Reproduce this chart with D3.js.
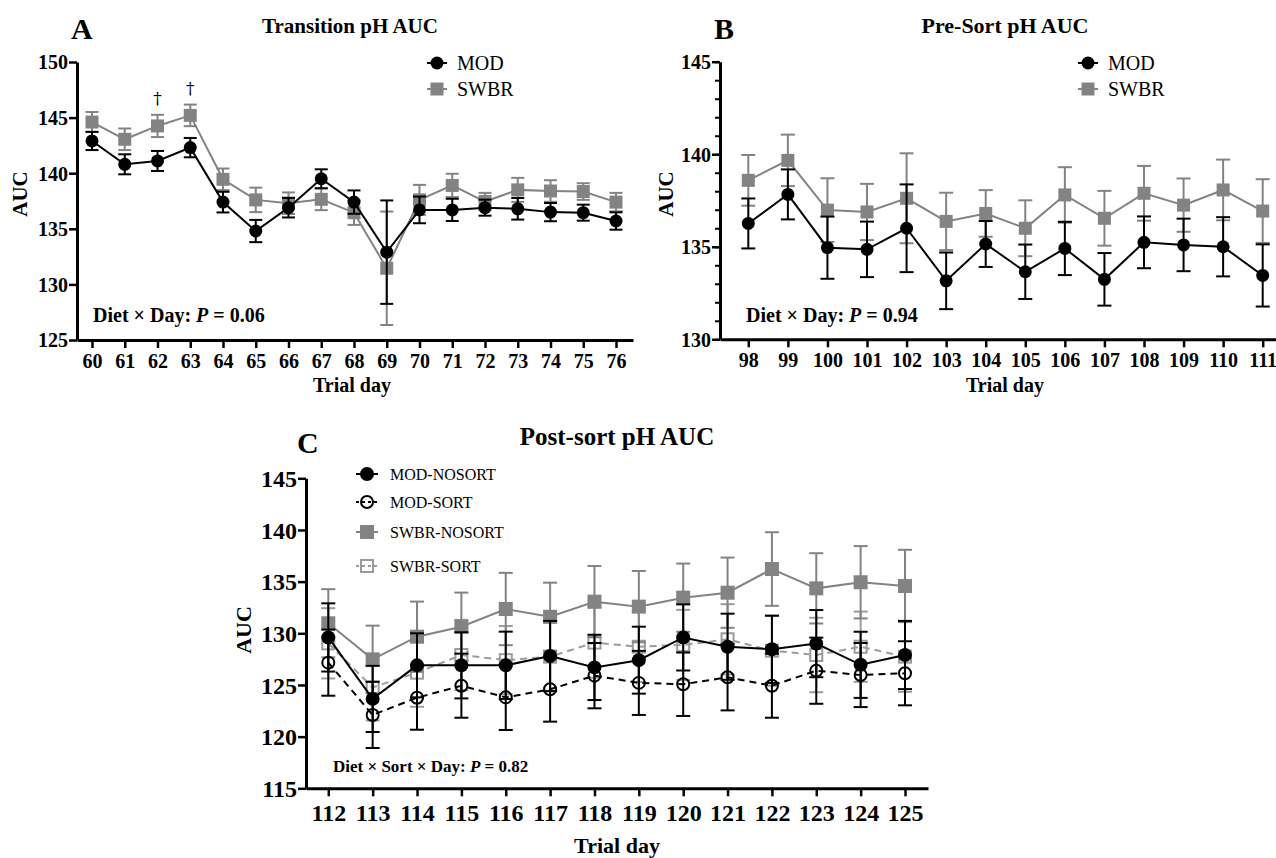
<!DOCTYPE html>
<html>
<head>
<meta charset="utf-8">
<title>pH AUC</title>
<script src="https://d3js.org/d3.v7.min.js"></script>
<style>
    body { margin: 0; padding: 0; background: #fff; }
    svg text { font-family: "Liberation Serif", "Times New Roman", serif; fill: #000; }
</style>
</head>
<body>
<div id="chart"></div>
<script>
// ---- data ----
var daysA = [60, 61, 62, 63, 64, 65, 66, 67, 68, 69, 70, 71, 72, 73, 74, 75, 76];
var modA = [142.9, 140.8, 141.1, 142.3, 137.4, 134.8, 136.9, 139.5, 137.4, 132.9, 136.7, 136.7, 136.9, 136.8, 136.5, 136.45, 135.7];
var modA_se = [0.82, 0.9, 0.9, 0.87, 0.93, 1.0, 0.88, 0.85, 1.05, 4.65, 1.2, 1.0, 0.72, 0.97, 0.82, 0.72, 0.78];
var swbrA = [144.6, 143.05, 144.25, 145.2, 139.45, 137.6, 137.3, 137.65, 136.45, 131.45, 137.6, 138.9, 137.45, 138.5, 138.4, 138.35, 137.4];
var swbrA_se = [0.9, 0.97, 1.0, 0.97, 0.97, 1.1, 0.97, 0.97, 1.1, 5.1, 1.35, 1.05, 0.78, 1.08, 0.97, 0.75, 0.83];
var daggerDaysA = [62, 63];

var daysB = [98, 99, 100, 101, 102, 103, 104, 105, 106, 107, 108, 109, 110, 111];
var modB = [136.26, 137.83, 134.95, 134.86, 136.0, 133.16, 135.15, 133.65, 134.91, 133.24, 135.24, 135.1, 135.0, 133.45];
var modB_se = [1.35, 1.35, 1.68, 1.5, 2.37, 1.53, 1.24, 1.47, 1.44, 1.42, 1.4, 1.42, 1.6, 1.68];
var swbrB = [138.59, 139.67, 136.98, 136.88, 137.62, 136.37, 136.8, 136.0, 137.8, 136.54, 137.89, 137.25, 138.07, 136.93];
var swbrB_se = [1.37, 1.39, 1.72, 1.52, 2.43, 1.55, 1.26, 1.51, 1.5, 1.48, 1.48, 1.44, 1.64, 1.72];

var daysC = [112, 113, 114, 115, 116, 117, 118, 119, 120, 121, 122, 123, 124, 125];
var modNoC = [129.6, 123.65, 126.9, 126.9, 126.9, 127.8, 126.7, 127.4, 129.6, 128.7, 128.45, 129.0, 126.95, 127.9];
var modNoC_se = [3.3, 3.2, 3.1, 3.2, 3.26, 3.4, 3.16, 3.24, 3.2, 3.2, 3.25, 3.25, 3.2, 3.3];
var modSortC = [127.16, 122.1, 123.77, 124.93, 123.8, 124.58, 125.9, 125.2, 125.07, 125.74, 124.93, 126.38, 125.96, 126.13];
var modSortC_se = [3.2, 3.2, 3.1, 3.1, 3.16, 3.13, 3.16, 3.1, 3.07, 3.2, 3.1, 3.2, 3.1, 3.1];
var swNoC = [130.97, 127.48, 129.67, 130.64, 132.35, 131.6, 133.06, 132.58, 133.45, 133.93, 136.22, 134.35, 134.94, 134.58];
var swNoC_se = [3.3, 3.26, 3.4, 3.3, 3.5, 3.3, 3.45, 3.45, 3.3, 3.4, 3.56, 3.4, 3.5, 3.5];
var swSortC = [129.03, 124.77, 126.19, 127.9, 127.4, 127.74, 129.1, 128.7, 128.87, 129.42, 128.32, 127.9, 128.7, 127.74];
var swSortC_se = [3.4, 3.2, 3.3, 3.4, 3.3, 3.3, 3.4, 3.4, 3.4, 3.4, 3.4, 3.6, 3.4, 3.4];

var ticksA = [125, 130, 135, 140, 145, 150];
var ticksB = [130, 135, 140, 145];
var ticksC = [115, 120, 125, 130, 135, 140, 145];

var BLACK = "#000", GREY = "#838383", LIGHT = "#9b9b9b";

var svg = d3.select("#chart").append("svg")
    .attr("width", 1276)
    .attr("height", 858);
svg.append("rect").attr("width", 1276).attr("height", 858).attr("fill", "#fff");

// x scale: first/last tick positions plus where the axis line starts/ends
function makeX(d0, d1, p0, p1, a0, a1) {
    var s = d3.scaleLinear().domain([d0, d1]).range([p0, p1]);
    return d3.scaleLinear().domain([s.invert(a0), s.invert(a1)]).range([a0, a1]);
}

function drawPanel(p) {
    var g = svg.append("g");
    var x = p.x, y = p.y;

    // y axis
    var ya = g.append("g")
        .attr("transform", "translate(" + x.range()[0] + ",0)")
        .call(d3.axisLeft(y).tickValues(p.yTicks).tickSize(8).tickSizeOuter(0).tickPadding(1));
    if (p.minor) {
        g.append("g")
            .attr("transform", "translate(" + x.range()[0] + ",0)")
            .call(d3.axisLeft(y).tickValues(d3.range(y.domain()[0], y.domain()[1] + 1, 1)).tickSize(5).tickFormat(""))
            .call(function (a) { a.select(".domain").remove(); a.selectAll("line").attr("stroke-width", 2); });
    }
    // x axis
    var xa = g.append("g")
        .attr("transform", "translate(0," + y.range()[0] + ")")
        .call(d3.axisBottom(x).tickValues(p.days).tickSize(8).tickSizeOuter(0).tickPadding(p.xPad).tickFormat(d3.format("d")));

    [ya, xa].forEach(function (a) {
        a.select(".domain").attr("stroke-width", 3);
        a.selectAll(".tick line").attr("stroke-width", 2.5);
        a.selectAll("text")
            .style("font-family", '"Liberation Serif", "Times New Roman", serif')
            .style("font-weight", "bold")
            .style("font-size", p.tickFont + "px")
            .attr("fill", "#000");
    });
    ya.selectAll("text").attr("dy", "0.34em");
    xa.selectAll("text").attr("dy", "0.78em");

    // series
    p.series.forEach(function (s) {
        var pts = p.days.map(function (d, i) { return { d: d, v: s.v[i], e: s.e[i] }; });
        var sg = g.append("g");
        // error bars
        pts.forEach(function (q) {
            var cx = x(q.d);
            sg.append("line").attr("x1", cx).attr("x2", cx).attr("y1", y(q.v - q.e)).attr("y2", y(q.v + q.e))
                .attr("stroke", s.color).attr("stroke-width", p.lw);
            [q.v - q.e, q.v + q.e].forEach(function (v) {
                sg.append("line").attr("x1", cx - p.cap).attr("x2", cx + p.cap).attr("y1", y(v)).attr("y2", y(v))
                    .attr("stroke", s.color).attr("stroke-width", p.lw);
            });
        });
        // line
        sg.append("path")
            .datum(pts)
            .attr("fill", "none")
            .attr("stroke", s.color)
            .attr("stroke-width", p.lw)
            .attr("stroke-dasharray", s.dash || null)
            .attr("d", d3.line().x(function (q) { return x(q.d); }).y(function (q) { return y(q.v); }));
        // markers
        pts.forEach(function (q) {
            drawMarker(sg, s, x(q.d), y(q.v), p.r);
        });
    });

    // legend
    p.legend.items.forEach(function (s, i) {
        var ly = p.legend.ys[i];
        var lx = p.legend.x;
        g.append("line").attr("x1", lx - p.legend.half).attr("x2", lx + p.legend.half).attr("y1", ly).attr("y2", ly)
            .attr("stroke", s.color).attr("stroke-width", p.lw).attr("stroke-dasharray", s.dash ? "3,3" : null);
        drawMarker(g, s, lx, ly, p.r);
        g.append("text").attr("x", p.legend.tx).attr("y", ly).attr("dy", "0.35em")
            .style("font-size", p.legend.font + "px")
            .text(s.name);
    });

    // texts
    g.append("text").attr("x", p.title.x).attr("y", p.title.y).attr("text-anchor", "middle")
        .style("font-weight", "bold").style("font-size", p.title.size + "px").text(p.title.text);
    g.append("text").attr("x", p.letter.x).attr("y", p.letter.y)
        .style("font-weight", "bold").style("font-size", "30px").text(p.letter.text);
    g.append("text").attr("transform", "translate(" + p.ylab.x + "," + p.ylab.y + ") rotate(-90)")
        .attr("text-anchor", "middle")
        .style("font-weight", "bold").style("font-size", p.ylab.size + "px").text("AUC");
    g.append("text").attr("x", p.xlab.x).attr("y", p.xlab.y).attr("text-anchor", "middle")
        .style("font-weight", "bold").style("font-size", p.xlab.size + "px").text("Trial day");

    var st = g.append("text").attr("x", p.stat.x).attr("y", p.stat.y)
        .style("font-weight", "bold").style("font-size", p.stat.size + "px");
    st.append("tspan").text(p.stat.pre);
    st.append("tspan").style("font-style", "italic").text("P");
    st.append("tspan").text(" = " + p.stat.val);
    return g;
}

function drawMarker(g, s, cx, cy, r) {
    var fill = s.open ? "none" : s.color;
    var sw = s.open ? 2 : 0;
    if (s.shape === "circle") {
        g.append("circle").attr("cx", cx).attr("cy", cy).attr("r", s.open ? r - 1 : r)
            .attr("fill", fill).attr("stroke", s.color).attr("stroke-width", sw);
    } else {
        var h = s.open ? r - 1 : r;
        g.append("rect").attr("x", cx - h).attr("y", cy - h).attr("width", 2 * h).attr("height", 2 * h)
            .attr("fill", fill).attr("stroke", s.color).attr("stroke-width", sw);
    }
}

// ---- panel A ----
var sModA = { name: "MOD", v: modA, e: modA_se, color: BLACK, shape: "circle" };
var sSwA = { name: "SWBR", v: swbrA, e: swbrA_se, color: GREY, shape: "square" };
var xA = makeX(60, 76, 92, 616, 77, 633);
var yA = d3.scaleLinear().domain([125, 150]).range([340, 62]);
var gA = drawPanel({
    x: xA, y: yA, days: daysA, yTicks: ticksA, tickFont: 20, xPad: 4, lw: 2, cap: 6.5, r: 6.5,
    series: [sSwA, sModA],
    legend: { items: [sModA, sSwA], x: 437, half: 10, tx: 457, ys: [63, 89], font: 20 },
    title: { text: "Transition pH AUC", x: 350, y: 33, size: 21 },
    letter: { text: "A", x: 71, y: 39 },
    ylab: { x: 27, y: 194, size: 21 },
    xlab: { x: 352, y: 392, size: 20 },
    stat: { x: 93, y: 322, size: 20, pre: "Diet \u00d7 Day: ", val: "0.06" }
});
daggerDaysA.forEach(function (d) {
    var i = daysA.indexOf(d);
    gA.append("text").attr("x", xA(d)).attr("y", yA(swbrA[i] + swbrA_se[i]) - 11)
        .attr("text-anchor", "middle")
        .style("font-family", '"DejaVu Serif", serif').style("font-size", "17px")
        .attr("fill", "#000").text("\u2020");
});

// ---- panel B ----
var sModB = { name: "MOD", v: modB, e: modB_se, color: BLACK, shape: "circle" };
var sSwB = { name: "SWBR", v: swbrB, e: swbrB_se, color: GREY, shape: "square" };
drawPanel({
    x: makeX(98, 111, 748.3, 1262.7, 720, 1276), y: d3.scaleLinear().domain([130, 145]).range([339.3, 61.7]),
    days: daysB, yTicks: ticksB, minor: true, tickFont: 20, xPad: 4, lw: 2, cap: 7, r: 6.5,
    series: [sSwB, sModB],
    legend: { items: [sModB, sSwB], x: 1088, half: 10, tx: 1108, ys: [63, 89], font: 20 },
    title: { text: "Pre-Sort pH AUC", x: 1005, y: 33, size: 22 },
    letter: { text: "B", x: 714, y: 39 },
    ylab: { x: 673, y: 194, size: 21 },
    xlab: { x: 1005, y: 392, size: 20 },
    stat: { x: 746, y: 322, size: 20, pre: "Diet \u00d7 Day: ", val: "0.94" }
});

// ---- panel C ----
var sModNo = { name: "MOD-NOSORT", v: modNoC, e: modNoC_se, color: BLACK, shape: "circle" };
var sModSort = { name: "MOD-SORT", v: modSortC, e: modSortC_se, color: BLACK, shape: "circle", open: true, dash: "7,5" };
var sSwNo = { name: "SWBR-NOSORT", v: swNoC, e: swNoC_se, color: GREY, shape: "square" };
var sSwSort = { name: "SWBR-SORT", v: swSortC, e: swSortC_se, color: LIGHT, shape: "square", open: true, dash: "7,5" };
drawPanel({
    x: makeX(112, 125, 328.3, 905, 306, 928), y: d3.scaleLinear().domain([115, 145]).range([788.3, 478.3]),
    days: daysC, yTicks: ticksC, tickFont: 24, xPad: 6, lw: 2, cap: 7, r: 7,
    series: [sSwSort, sSwNo, sModSort, sModNo],
    legend: { items: [sModNo, sModSort, sSwNo, sSwSort], x: 367, half: 11, tx: 390, ys: [474, 502, 532, 566], font: 16 },
    title: { text: "Post-sort pH AUC", x: 617, y: 445, size: 25 },
    letter: { text: "C", x: 297, y: 453 },
    ylab: { x: 251, y: 630, size: 22 },
    xlab: { x: 617, y: 853, size: 22 },
    stat: { x: 333, y: 772, size: 17, pre: "Diet \u00d7 Sort \u00d7 Day: ", val: "0.82" }
});
</script>
</body>
</html>
